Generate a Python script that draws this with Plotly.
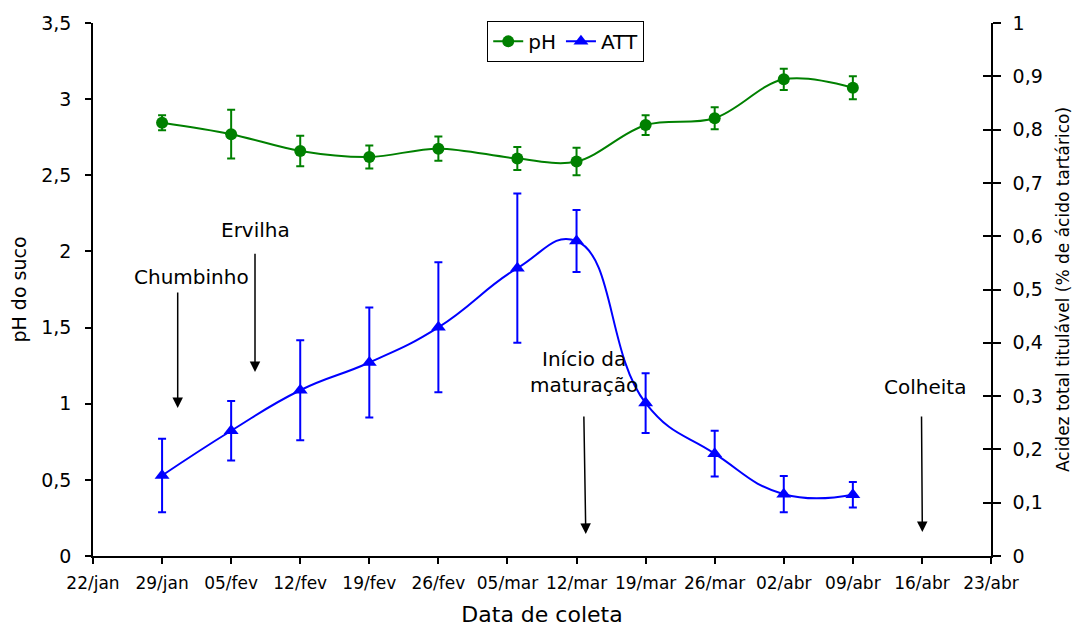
import plotly.graph_objects as go

# ---- data ----
dates = ['2007-01-29', '2007-02-05', '2007-02-12', '2007-02-19', '2007-02-26',
         '2007-03-06', '2007-03-12', '2007-03-19', '2007-03-26', '2007-04-02', '2007-04-09']
ph = [2.845, 2.77, 2.66, 2.62, 2.675, 2.61, 2.59, 2.83, 2.875, 3.13, 3.075]
ph_err = [0.05, 0.16, 0.10, 0.075, 0.08, 0.075, 0.09, 0.065, 0.072, 0.07, 0.075]
att = [0.151, 0.235, 0.311, 0.363, 0.429, 0.540, 0.591, 0.287, 0.192, 0.116, 0.115]
att_err = [0.069, 0.056, 0.094, 0.103, 0.122, 0.14, 0.058, 0.056, 0.043, 0.034, 0.024]

x_tickvals = ['2007-01-22', '2007-01-29', '2007-02-05', '2007-02-12', '2007-02-19', '2007-02-26',
              '2007-03-05', '2007-03-12', '2007-03-19', '2007-03-26', '2007-04-02', '2007-04-09',
              '2007-04-16', '2007-04-23']
x_ticktext = ['22/jan', '29/jan', '05/fev', '12/fev', '19/fev', '26/fev', '05/mar', '12/mar',
              '19/mar', '26/mar', '02/abr', '09/abr', '16/abr', '23/abr']
ph_ticks = [0, 0.5, 1, 1.5, 2, 2.5, 3, 3.5]
att_ticks = [0, 0.1, 0.2, 0.3, 0.4, 0.5, 0.6, 0.7, 0.8, 0.9, 1]

GREEN = 'rgb(0,128,0)'
BLUE = 'rgb(0,0,255)'
FONT = 'DejaVu Sans'

fig = go.Figure()
fig.add_trace(go.Scatter(
    x=dates, y=ph, name='pH', mode='lines+markers',
    line=dict(color=GREEN, width=2, shape='spline', smoothing=1),
    marker=dict(symbol='circle', size=12, color=GREEN),
    error_y=dict(type='data', array=ph_err, color=GREEN, thickness=2, width=4),
))
fig.add_trace(go.Scatter(
    x=dates, y=att, name='ATT', mode='lines+markers', yaxis='y2',
    line=dict(color=BLUE, width=2, shape='spline', smoothing=1.3),
    marker=dict(symbol='triangle-up', size=13, color=BLUE),
    error_y=dict(type='data', array=att_err, color=BLUE, thickness=2, width=4),
))
# helper (empty) trace so the inner-tick right axis is drawn
fig.add_trace(go.Scatter(x=[], y=[], yaxis='y3', showlegend=False, hoverinfo='skip'))

axis_common = dict(showgrid=False, zeroline=False, showline=True, linecolor='black',
                   linewidth=1.5, tickcolor='black', tickwidth=1.5, automargin=False)

# the page body has an 8px margin, so the figure is 8px smaller than the window
fig.update_layout(
    width=1073, height=619,
    margin=dict(l=85, r=90, t=15, b=71, autoexpand=False),
    paper_bgcolor='white', plot_bgcolor='white',
    separators=', ',
    font=dict(family=FONT, color='black'),
    showlegend=True,
    legend=dict(orientation='h', x=0.439, y=1.004, xanchor='left', yanchor='top',
                bgcolor='white', bordercolor='black', borderwidth=1,
                font=dict(family=FONT, size=20), itemwidth=30, tracegroupgap=0),
    xaxis=dict(type='date', range=['2007-01-22', '2007-04-23'],
               tickvals=x_tickvals, ticktext=x_ticktext,
               ticks='outside', ticklen=6, ticklabelstandoff=5,
               tickfont=dict(family=FONT, size=17),
               title=dict(text='Data de coleta', font=dict(family=FONT, size=22), standoff=19),
               **axis_common),
    yaxis=dict(range=[0, 3.5], tickvals=ph_ticks, ticks='outside', ticklen=6,
               ticklabelstandoff=10, tickfont=dict(family=FONT, size=19),
               title=dict(text='pH do suco', font=dict(family=FONT, size=19), standoff=12),
               **axis_common),
    yaxis2=dict(range=[0, 1], tickvals=att_ticks, overlaying='y', side='right',
                ticks='outside', ticklen=8, ticklabelstandoff=8,
                tickfont=dict(family=FONT, size=19),
                title=dict(text='Acidez total titulável (% de ácido tartárico)',
                           font=dict(family=FONT, size=17), standoff=15),
                **axis_common),
    yaxis3=dict(range=[0, 1], tickvals=att_ticks, overlaying='y', side='right',
                ticks='inside', ticklen=8, showticklabels=False, showline=False,
                showgrid=False, zeroline=False, tickcolor='black', tickwidth=1.5,
                automargin=False),
)

ann_font = dict(family=FONT, size=20, color='black')
# text labels
labels = [
    ('Chumbinho', '2007-02-01 00:00', 1.834),
    ('Ervilha', '2007-02-07 12:00', 2.141),
    ('Início da<br>maturação', '2007-03-12 19:00', 1.210),
    ('Colheita', '2007-04-16 07:00', 1.112),
]
for txt, xx, yy in labels:
    fig.add_annotation(x=xx, y=yy, xref='x', yref='y', text=txt, showarrow=False,
                       font=ann_font, xanchor='center', yanchor='middle')
# arrows (tip, tail)
arrows = [
    ('2007-01-30 14:00', 0.972, '2007-01-30 14:00', 1.740),
    ('2007-02-07 10:00', 1.208, '2007-02-07 10:00', 1.994),
    ('2007-03-12 22:30', 0.145, '2007-03-12 17:45', 0.926),
    ('2007-04-16 01:00', 0.158, '2007-04-15 23:00', 0.926),
]
for xt, yt, xs, ys in arrows:
    fig.add_annotation(x=xt, y=yt, xref='x', yref='y', ax=xs, ay=ys, axref='x', ayref='y',
                       text='', showarrow=True, arrowhead=2, arrowsize=1.4, arrowwidth=1.5,
                       arrowcolor='black', standoff=0)

fig.write_html('out.html')
